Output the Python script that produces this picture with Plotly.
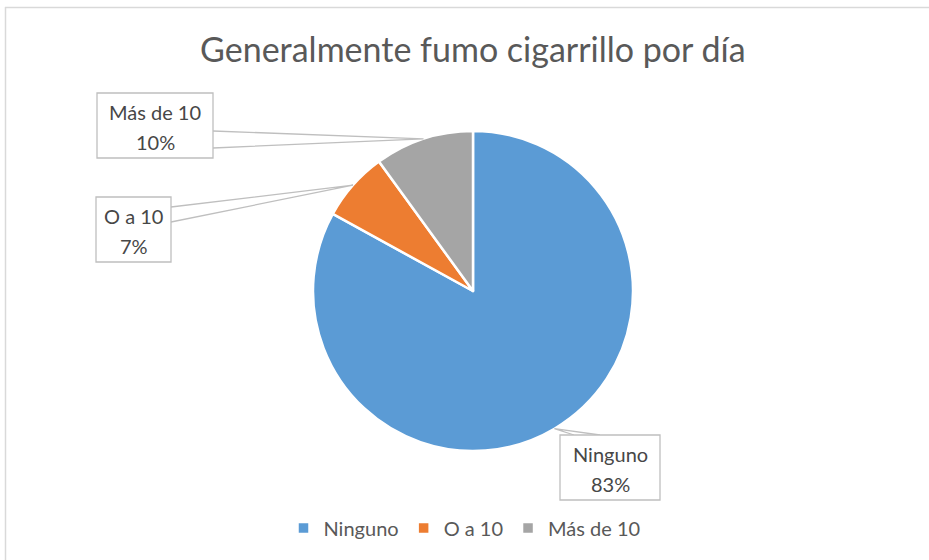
import math
import plotly.graph_objects as go

# datos del gráfico
categorias = ["Ninguno", "O a 10", "Más de 10"]
porcentajes = [83, 7, 10]
colores = ["#5B9BD5", "#ED7D31", "#A5A5A5"]
titulo = "Generalmente fumo cigarrillo por día"

W, H = 929, 560
# geometría del pastel en píxeles
cx, cy, r = 473, 291, 160
# caja de cada etiqueta (x0, y0, x1, y1 en px)
cajas = {
    "Ninguno": (560, 435, 660, 500),
    "O a 10": (96, 197, 171, 262),
    "Más de 10": (97, 93, 213, 158),
}
# base del conector en la caja (dos puntos px)
bases = {
    "Ninguno": [(574, 435), (600, 435)],
    "O a 10": [(171, 207), (171, 222)],
    "Más de 10": [(213, 131), (213, 148)],
}
GRIS = "#BFBFBF"
TEXTO = "#474747"


def px(x, y):
    return x / W, 1 - y / H


fig = go.Figure(go.Pie(
    labels=categorias, values=porcentajes, sort=False, direction="clockwise", rotation=0,
    marker=dict(colors=colores, line=dict(color="white", width=2.5)),
    textinfo="none", hoverinfo="label+percent",
    domain=dict(x=[(cx - r) / W, (cx + r) / W], y=[1 - (cy + r) / H, 1 - (cy - r) / H]),
))

total = sum(porcentajes)
acum = 0
shapes = []
annotations = []
for cat, val in zip(categorias, porcentajes):
    medio = (acum + val / 2) / total * 2 * math.pi
    acum += val
    ax_, ay_ = cx + r * math.sin(medio), cy - r * math.cos(medio)
    (b1x, b1y), (b2x, b2y) = bases[cat]
    p0, p1, p2 = px(b1x, b1y), px(ax_, ay_), px(b2x, b2y)
    shapes.append(dict(type="path", xref="paper", yref="paper",
                       path=f"M {p0[0]} {p0[1]} L {p1[0]} {p1[1]} L {p2[0]} {p2[1]}",
                       line=dict(color=GRIS, width=1.3), fillcolor="white"))
    x0, y0, x1, y1 = cajas[cat]
    a, b = px(x0, y0), px(x1, y1)
    shapes.append(dict(type="rect", xref="paper", yref="paper", x0=a[0], y0=a[1], x1=b[0], y1=b[1],
                       line=dict(color=GRIS, width=1.3), fillcolor="white"))
    xm = (x0 + x1) / 2
    for texto, yy in ((cat, y0 + 19), (f"{round(val / total * 100)}%", y0 + 49)):
        x, y = px(xm, yy)
        annotations.append(dict(
            text=texto, x=x, y=y, xref="paper", yref="paper", xanchor="center", yanchor="middle",
            showarrow=False, font=dict(family="Lato", size=20, color=TEXTO),
        ))

# marco del gráfico
shapes.append(dict(type="line", xref="paper", yref="paper", x0=5 / W, x1=1, y0=1 - 7.5 / H, y1=1 - 7.5 / H,
                   line=dict(color="#D9D9D9", width=1.5)))
shapes.append(dict(type="line", xref="paper", yref="paper", x0=5.5 / W, x1=5.5 / W, y0=0, y1=1 - 7 / H,
                   line=dict(color="#D9D9D9", width=1.5)))

fig.update_layout(
    width=W, height=H, margin=dict(l=0, r=0, t=0, b=0),
    paper_bgcolor="white", plot_bgcolor="white",
    title=dict(text=titulo, x=0.509, xanchor="center", y=1 - 50 / H, yanchor="middle",
               font=dict(family="Lato", size=34, color="#595959")),
    legend=dict(orientation="h", x=0.5, xanchor="center", y=1 - 528 / H, yanchor="middle",
                font=dict(family="Lato", size=20, color="#595959"), itemwidth=30),
    shapes=shapes, annotations=annotations,
)

fig.write_html("out.html", config={"displayModeBar": False},
               post_script="document.body.style.margin='0';")
